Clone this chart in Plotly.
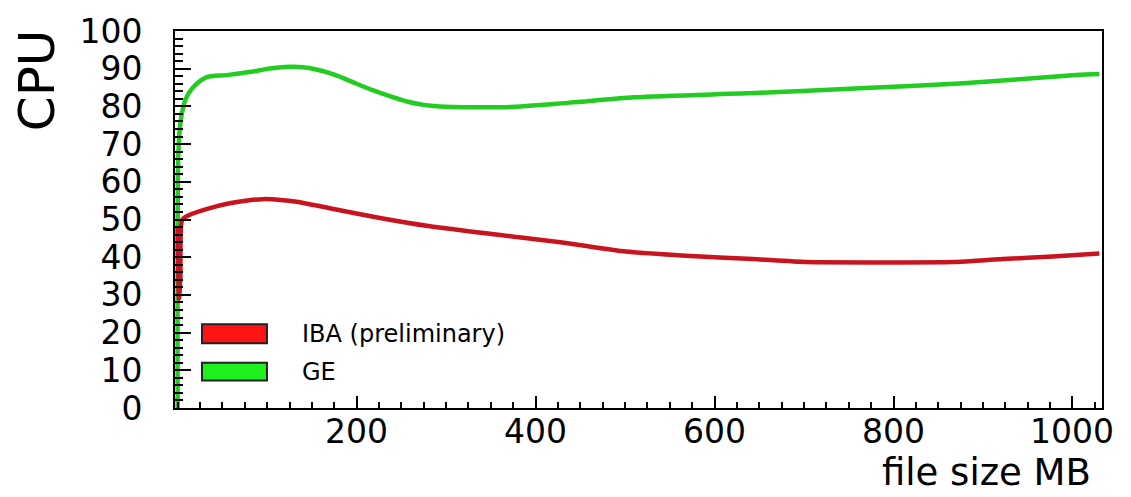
import plotly.graph_objects as go

# ---- data ----
ge_x = [0, 0.5, 2, 5, 9, 17, 32, 55, 80, 105, 125, 140, 155, 170, 185, 200, 218, 237, 256, 275, 293, 330, 367, 438, 511, 650, 762, 874, 1004, 1030]
ge_y = [0, 65, 73, 78.5, 82, 85, 87.7, 88.3, 89.1, 90.1, 90.5, 90.4, 89.8, 88.8, 87.5, 86.0, 84.3, 82.7, 81.3, 80.4, 80.0, 79.8, 79.8, 81.0, 82.4, 83.6, 84.8, 86.1, 88.3, 88.6]

iba_x = [0, 1.5, 3, 5, 13, 36, 58, 80, 95, 115, 133, 170, 226, 282, 356, 430, 501, 568, 643, 703, 780, 866, 922, 978, 1030]
iba_y = [48, 29, 35, 49.9, 51.2, 53, 54.3, 55.1, 55.4, 55.2, 54.7, 53.0, 50.4, 48.2, 46.0, 43.9, 41.5, 40.4, 39.5, 38.7, 38.6, 38.7, 39.5, 40.2, 41.0]

x_ticks = [200, 400, 600, 800, 1000]
y_ticks = [0, 10, 20, 30, 40, 50, 60, 70, 80, 90, 100]

legend_labels = ["IBA (preliminary)", "GE"]
legend_fill = ["#ff1414", "#1ef01e"]

FONT = "DejaVu Sans"

fig = go.Figure()
fig.add_trace(go.Scatter(x=ge_x, y=ge_y, mode="lines", name="GE",
                         line=dict(color="#22cc22", width=4.5, shape="spline", smoothing=0.8),
                         showlegend=False))
fig.add_trace(go.Scatter(x=iba_x, y=iba_y, mode="lines", name="IBA (preliminary)",
                         line=dict(color="#c8141e", width=4.5, shape="spline", smoothing=0.6),
                         showlegend=False))

fig.update_layout(
    width=1131, height=497,
    margin=dict(l=175, r=29, t=25, b=89),
    paper_bgcolor="white", plot_bgcolor="white",
    font=dict(family=FONT, color="black"),
)

fig.update_xaxes(
    range=[-3, 1033], showgrid=False, zeroline=False,
    showline=True, linecolor="black", linewidth=2, mirror=True,
    tickmode="array", tickvals=x_ticks, showticklabels=False,
    ticks="inside", ticklen=12, tickwidth=1.5, tickcolor="black",
    minor=dict(ticks="inside", dtick=25, tick0=0, ticklen=6, tickwidth=1.5, tickcolor="black", showgrid=False),
)
fig.update_yaxes(
    range=[0, 100], showgrid=False, zeroline=False,
    showline=True, linecolor="black", linewidth=2, mirror=True,
    tickmode="array", tickvals=y_ticks, ticktext=[str(v) for v in y_ticks],
    ticks="inside", ticklen=16, tickwidth=1.5, tickcolor="black",
    tickfont=dict(family=FONT, size=33, color="black"),
    ticklabelstandoff=24,
    minor=dict(ticks="inside", dtick=2, tick0=0, ticklen=8, tickwidth=1.5, tickcolor="black", showgrid=False),
)

# x tick labels placed at the axis' tick values (closer to the axis, as in the reference)
for v in x_ticks:
    fig.add_annotation(text=str(v), xref="x", yref="paper", x=v, y=-0.0627,
                       showarrow=False, xanchor="center", yanchor="middle",
                       font=dict(family=FONT, size=33, color="black"))

# axis titles (ROOT style: placed at the ends)
fig.add_annotation(text="CPU", xref="paper", yref="paper", x=-0.148, y=0.869,
                   textangle=-90, showarrow=False, xanchor="center", yanchor="middle",
                   font=dict(family=FONT, size=50, color="black"))
fig.add_annotation(text="file size MB", xref="paper", yref="paper", x=0.99, y=-0.2335,
                   showarrow=False, xanchor="right", yanchor="bottom",
                   font=dict(family=FONT, size=37, color="black"))

# legend (boxes + text)
box_y = [(0.172, 0.222), (0.073, 0.120)]
for lab, col, (y0, y1) in zip(legend_labels, legend_fill, box_y):
    fig.add_shape(type="rect", xref="paper", yref="paper", x0=0.0291, x1=0.0992, y0=y0, y1=y1,
                  fillcolor=col, line=dict(color="#222222", width=2))
    fig.add_annotation(text=lab, xref="paper", yref="paper", x=0.135, y=(y0 + y1) / 2,
                       showarrow=False, xanchor="left", yanchor="middle",
                       font=dict(family=FONT, size=24, color="black"))

fig.write_html("out.html")
